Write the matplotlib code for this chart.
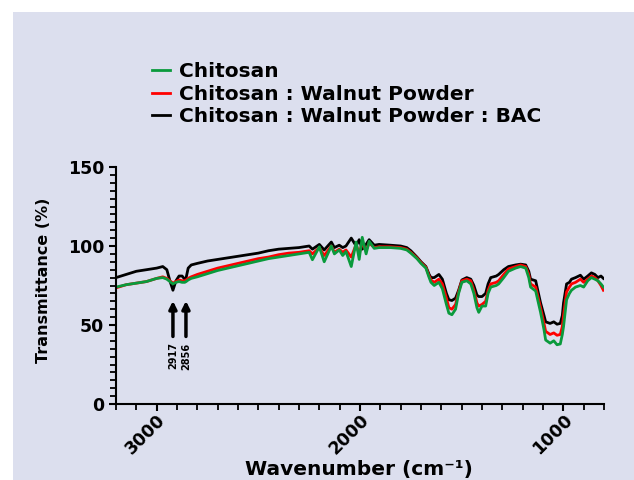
import matplotlib
matplotlib.use("Agg")
import matplotlib.pyplot as plt
from matplotlib.patches import Rectangle
from matplotlib.ticker import MultipleLocator, FixedLocator

# FTIR spectra (wavenumber in cm^-1, transmittance in %)
WAVENUMBER = [
    3200, 3150, 3100, 3050, 3000, 2970, 2950, 2935, 2920, 2905, 2890, 2875, 2862, 2855,
    2845, 2830, 2800, 2750, 2700, 2650, 2600, 2550, 2500, 2450, 2400, 2350, 2300, 2250,
    2234, 2200, 2176, 2141, 2126, 2102, 2085, 2069, 2043, 2019, 2004, 1989, 1970, 1955,
    1930, 1906, 1850, 1800, 1770, 1750, 1720, 1700, 1676, 1660, 1651, 1635, 1612, 1595,
    1575, 1563, 1548, 1530, 1515, 1499, 1475, 1455, 1440, 1425, 1416, 1400, 1382, 1370,
    1357, 1330, 1318, 1293, 1270, 1235, 1210, 1185, 1170, 1161, 1136, 1112, 1095, 1087,
    1065, 1047, 1031, 1015, 1005, 999, 984, 970, 960, 940, 916, 900, 880, 862,
    845, 830, 815, 803,
]

CHITOSAN_BAC = [
    80, 82, 84, 85, 86, 87, 85, 78, 72, 78, 81, 81, 79, 80,
    86, 88, 89, 90.5, 91.5, 92.5, 93.5, 94.5, 95.5, 97, 98, 98.5, 99, 100,
    98, 101, 97.5, 102.5, 99, 100.5, 99, 100, 105, 100, 104, 98, 101, 104,
    100.5, 101, 100.5, 100, 99, 97, 93, 90, 87, 82, 80, 80, 82, 79,
    70, 66, 65.5, 67, 72, 78.5, 80, 79, 75, 69, 68, 68, 70, 76,
    80, 81, 82, 85, 87, 88, 88.5, 88, 84, 79, 78, 64, 56, 52,
    51, 52, 50.5, 51, 56, 64, 76, 77, 79, 80, 81.5, 79, 81, 83,
    82, 80, 81, 79.5,
]

CHITOSAN_WALNUT = [
    73.5, 75.5, 76.5, 77.5, 79.5, 80.5, 79.5, 78, 76.5, 77.5, 78.5, 78, 78, 78.5,
    79.5, 80.5, 82, 84, 86, 87.5, 89, 90.5, 92, 93, 94.5, 95.5, 96, 97,
    95, 99, 94, 100, 96, 98, 96, 97.5, 93, 101, 95, 102, 97, 102,
    99, 99.5, 99.5, 99, 98, 96, 92.5, 89.5, 86.5, 81, 78.5, 77, 79, 76,
    67, 61, 60, 63, 71, 78, 79, 78, 72, 64, 62, 63, 65, 72,
    76, 77, 78, 82, 85.5, 87, 88, 87, 82, 76, 74, 61, 51, 46,
    44, 45, 43.5, 44, 49, 56, 71, 74, 76, 77, 79, 77, 79, 81,
    80, 78, 75, 72,
]

CHITOSAN = [
    74, 75.5, 76.5, 77.5, 79.5, 80, 79, 77.5, 76, 77, 77.5, 77, 77, 77.5,
    78.5, 79.5, 80.5, 82.5, 84.5, 86, 87.5, 89, 90.5, 92, 93, 94, 95, 96,
    91.3, 99.5, 90, 100, 95, 97.5, 94, 96.5, 87, 102.5, 91.5, 105.5, 95, 103,
    98.5, 99, 99, 98.5, 97.5, 95.5, 92, 89, 86, 80, 77, 75, 77, 73,
    63, 57.5, 56.5, 60, 70, 77, 78, 76, 70, 61, 58, 62, 62, 70,
    74, 75, 76, 80, 84, 86, 87, 86, 80, 74, 71.5, 58, 47, 40.5,
    38.5, 40, 37.5, 38, 44, 49, 66, 70, 72, 74, 75, 74, 78, 80,
    79, 78, 76, 74,
]

SERIES_LABELS = ["Chitosan", "Chitosan : Walnut Powder", "Chitosan : Walnut Powder : BAC"]
PEAK_POSITIONS = [2920, 2856]
PEAK_LABELS = ["2917", "2856"]

BG = "#dcdfee"

plt.rcParams["font.family"] = "DejaVu Sans"
plt.rcParams["font.weight"] = "bold"

fig = plt.figure(figsize=(6.34, 4.8), dpi=100, facecolor="white")
fig.patches.append(Rectangle((13 / 634, 0), 1, 1 - 12 / 480, transform=fig.transFigure,
                             facecolor=BG, edgecolor="none", zorder=-10))

ax = fig.add_axes([116 / 634, 76 / 480, 488 / 634, 237 / 480])
ax.set_facecolor("none")

ax.plot(WAVENUMBER, CHITOSAN_BAC, color="black", lw=2.0, label=SERIES_LABELS[2])
ax.plot(WAVENUMBER, CHITOSAN_WALNUT, color="#ff0000", lw=2.0, label=SERIES_LABELS[1])
ax.plot(WAVENUMBER, CHITOSAN, color="#0a9a3c", lw=2.0, label=SERIES_LABELS[0])

ax.set_xlim(3200, 800)
ax.set_ylim(0, 150)
ax.xaxis.set_major_locator(FixedLocator([3000, 2000, 1000]))
ax.xaxis.set_minor_locator(MultipleLocator(100))
ax.yaxis.set_major_locator(MultipleLocator(50))
ax.yaxis.set_minor_locator(MultipleLocator(5))

for side in ("top", "right"):
    ax.spines[side].set_visible(False)
for side in ("left", "bottom"):
    ax.spines[side].set_linewidth(1.5)
ax.tick_params(which="major", length=5, width=1.5, labelsize=12.5)
ax.tick_params(which="minor", length=4, width=1.3)
ax.tick_params(axis="x", which="major", pad=0)
plt.setp(ax.get_xticklabels(), rotation=45, ha="right", va="top",
         rotation_mode="anchor", fontweight="bold")
plt.setp(ax.get_yticklabels(), fontweight="bold")

ax.set_ylabel("Transmittance (%)", fontsize=11.5, fontweight="bold")
ax.yaxis.set_label_coords((44 - 116) / 488, (404 - 280) / 237)
ax.set_xlabel("Wavenumber (cm⁻¹)", fontsize=14.5, fontweight="bold")
ax.xaxis.set_label_coords((359 - 116) / 488, -(469 - 404) / 237)
ax.xaxis.label.set_va("center")
ax.yaxis.label.set_va("center")

for pos, lab in zip(PEAK_POSITIONS, PEAK_LABELS):
    ax.annotate("", xy=(pos, 67), xytext=(pos, 41),
                arrowprops=dict(arrowstyle="-|>", lw=2.5, color="black", mutation_scale=11))
    ax.text(pos, 39, lab, rotation=90, ha="center", va="top", fontsize=7, fontweight="bold")

handles, labels = ax.get_legend_handles_labels()
fig.legend(handles[::-1], labels[::-1], loc="upper left",
           bbox_to_anchor=(134 / 634, 1 - 44 / 480), frameon=False,
           handlelength=0.9, handletextpad=0.45, labelspacing=0.18,
           prop={"weight": "bold", "size": 14.5})

fig.savefig("out.png", dpi=100, facecolor="white")
